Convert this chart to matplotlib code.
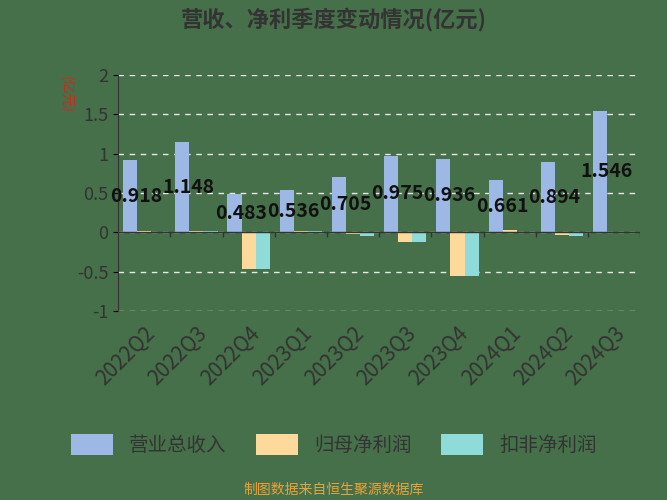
import matplotlib
matplotlib.use("Agg")
import matplotlib.pyplot as plt
import numpy as np

plt.rcParams['font.family'] = ['Noto Sans CJK SC']

categories = ["2022Q2","2022Q3","2022Q4","2023Q1","2023Q2","2023Q3","2023Q4","2024Q1","2024Q2","2024Q3"]
revenue = [0.918,1.148,0.483,0.536,0.705,0.975,0.936,0.661,0.894,1.546]
net_profit = [0.02,0.02,-0.47,0.02,-0.02,-0.12,-0.55,0.03,-0.03,0.01]
deducted = [0.005,0.02,-0.47,0.02,-0.05,-0.12,-0.55,0.01,-0.05,0.01]
yticks = [-1,-0.5,0,0.5,1,1.5,2]
yticklabels = ["-1","-0.5","0","0.5","1","1.5","2"]

bg = "#46704a"
fig = plt.figure(figsize=(6.67,5.0), dpi=100, facecolor=bg)
ax = fig.add_axes([0.177,0.378,0.783,0.472], facecolor=bg)
x = np.arange(len(categories))
w = 0.27
ax.bar(x-w, revenue, w, color="#9db8e4", label="营业总收入")
ax.bar(x, net_profit, w, color="#fdd99b", label="归母净利润")
ax.bar(x+w, deducted, w, color="#8fdbd9", label="扣非净利润")
for i,v in enumerate(revenue):
    ax.text(i-0.15, v/2, f"{v:g}", ha="center", va="center", fontsize=14, fontweight="bold", color="#111111")
ax.set_ylim(-1,2)
ax.set_xlim(-0.5,len(categories)-0.5)
ax.set_yticks(yticks)
ax.set_yticklabels(yticklabels, fontsize=13, color="#333333")
ax.yaxis.grid(True, linestyle=(0,(4,4)), color="#e8e8e8", linewidth=1)
ax.set_axisbelow(True)
ax.set_xticks(x)
ax.set_xticklabels(categories, rotation=45, ha="right", rotation_mode="anchor", fontsize=15, color="#333333")
ax.tick_params(axis="x", length=0, pad=8)
ax.axhline(0, color="#333333", linewidth=1)
ax.vlines(np.arange(1, len(categories)+1)-0.5, -0.06, 0, color="#333333", linewidth=1)
ax.spines['bottom'].set_visible(False)
ax.spines['left'].set_color("#333333")
ax.spines['top'].set_visible(False)
ax.spines['right'].set_visible(False)
fig.text(0.098,0.81,"(亿元)", rotation=-90, color="#cc2b1b", fontsize=10, ha="center", va="center")
fig.text(0.5,0.962,"营收、净利季度变动情况(亿元)", ha="center", va="center", fontsize=16, fontweight="bold", color="#333333")
leg = fig.legend(loc="center", bbox_to_anchor=(0.5,0.11), ncol=3, frameon=False, fontsize=14,
                 handlelength=2.2, handleheight=1.3, columnspacing=1.5, labelcolor="#333333")
fig.text(0.5,0.02,"制图数据来自恒生聚源数据库", ha="center", va="center", fontsize=10, color="#e8a33a")
fig.savefig("out.png", dpi=100, facecolor=bg)
